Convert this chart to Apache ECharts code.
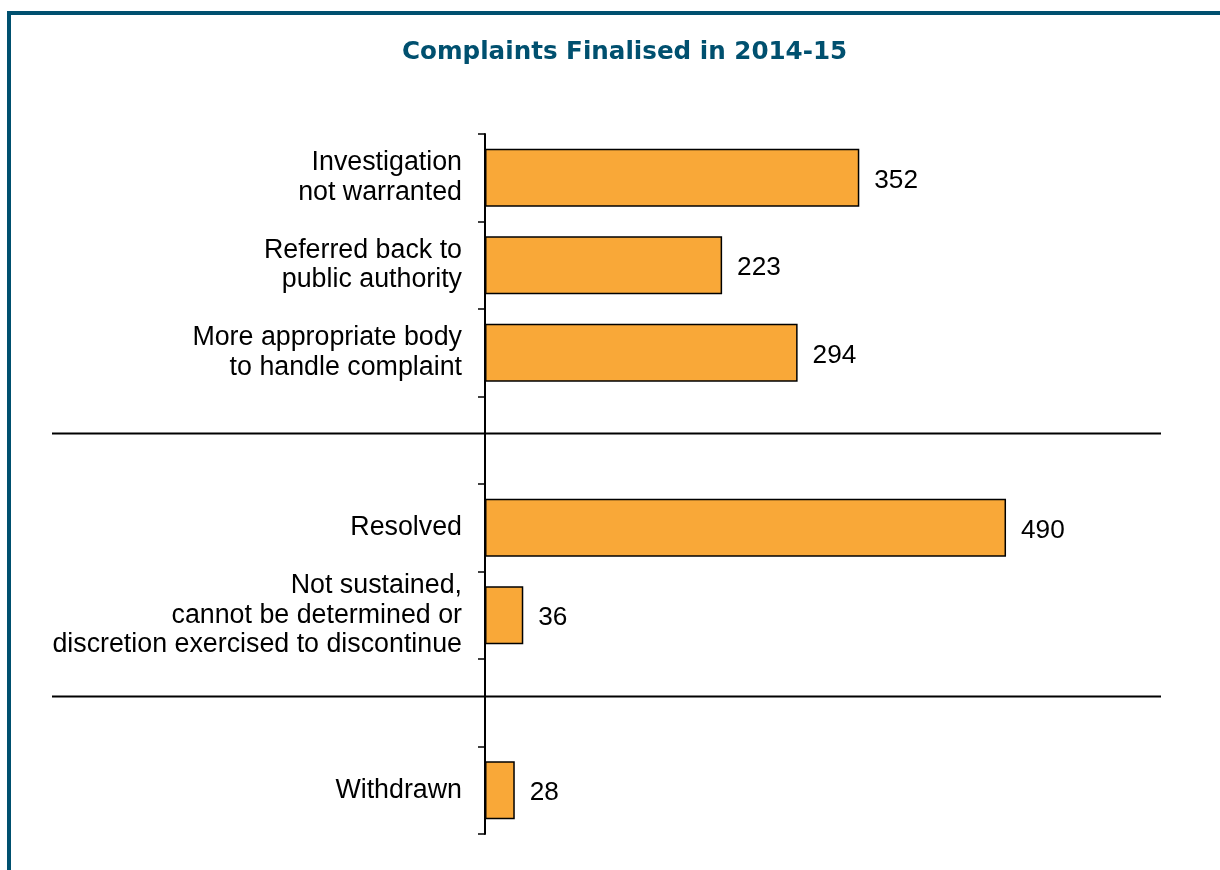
<!DOCTYPE html>
<html>
<head>
<meta charset="utf-8">
<title>Complaints Finalised in 2014-15</title>
<script src="https://cdn.jsdelivr.net/npm/echarts@6/dist/echarts.min.js"></script>
<style>
  html, body { margin: 0; padding: 0; background: #ffffff; }
  #chart { width: 1220px; height: 870px; }
</style>
</head>
<body>
<div id="chart"></div>
<script>
// Outcome categories, top to bottom; empty entries are the gaps between groups
const categories = [
  'Investigation\nnot warranted',
  'Referred back to\npublic authority',
  'More appropriate body\nto handle complaint',
  '',
  'Resolved',
  'Not sustained,\ncannot be determined or\ndiscretion exercised to discontinue',
  '',
  'Withdrawn'
];
// Number of complaints finalised per outcome
const counts = [352, 223, 294, null, 490, 36, null, 28];
// Rows where a group divider line is drawn
const dividerRows = [3, 6];

const FRAME = '#00506F';
const BAR = '#F9A838';

const chart = echarts.init(document.getElementById('chart'), null, { renderer: 'canvas' });

chart.setOption({
  animation: false,
  backgroundColor: '#ffffff',
  title: {
    text: 'Complaints Finalised in 2014-15',
    left: 397,
    top: 35,
    textStyle: {
      fontFamily: 'DejaVu Sans',
      fontWeight: 'bold',
      fontSize: 24.6,
      color: FRAME
    }
  },
  grid: { left: 485, right: 97, top: 134, bottom: 36, containLabel: false },
  xAxis: {
    type: 'value',
    min: 0,
    max: 600,
    show: false
  },
  yAxis: {
    type: 'category',
    inverse: true,
    data: categories,
    axisLine: { show: true, lineStyle: { color: '#000', width: 2 } },
    axisTick: { show: true, length: 7, lineStyle: { color: '#000', width: 1.5 } },
    axisLabel: {
      margin: 23,
      fontFamily: 'Liberation Sans, Arial, sans-serif',
      fontSize: 26.8,
      lineHeight: 29.5,
      padding: [4, 0, 0, 0],
      color: '#000',
      align: 'right'
    },
    splitLine: { show: false }
  },
  series: [{
    type: 'bar',
    data: counts,
    barWidth: 58,
    itemStyle: { color: BAR, borderColor: '#000', borderWidth: 1.5 },
    label: {
      show: true,
      position: 'right',
      distance: 15,
      offset: [0, 3],
      fontFamily: 'Liberation Sans, Arial, sans-serif',
      fontSize: 26.2,
      color: '#000'
    }
  }]
});

// Page frame (top and left rules) plus the group dividers spanning the chart
const graphics = [
  { type: 'rect', shape: { x: 7, y: 11, width: 1213, height: 4 }, style: { fill: FRAME }, silent: true },
  { type: 'rect', shape: { x: 7, y: 11, width: 4, height: 859 }, style: { fill: FRAME }, silent: true }
];
dividerRows.forEach(function (row) {
  // dividers sit a little above the centre of their empty row
  const y = Math.round(chart.convertToPixel({ yAxisIndex: 0 }, row)) - 6.5;
  graphics.push({
    type: 'line',
    shape: { x1: 52, y1: y, x2: 1161, y2: y },
    style: { stroke: '#000', lineWidth: 2 },
    silent: true,
    z: 10
  });
});
chart.setOption({ graphic: graphics });
</script>
</body>
</html>
